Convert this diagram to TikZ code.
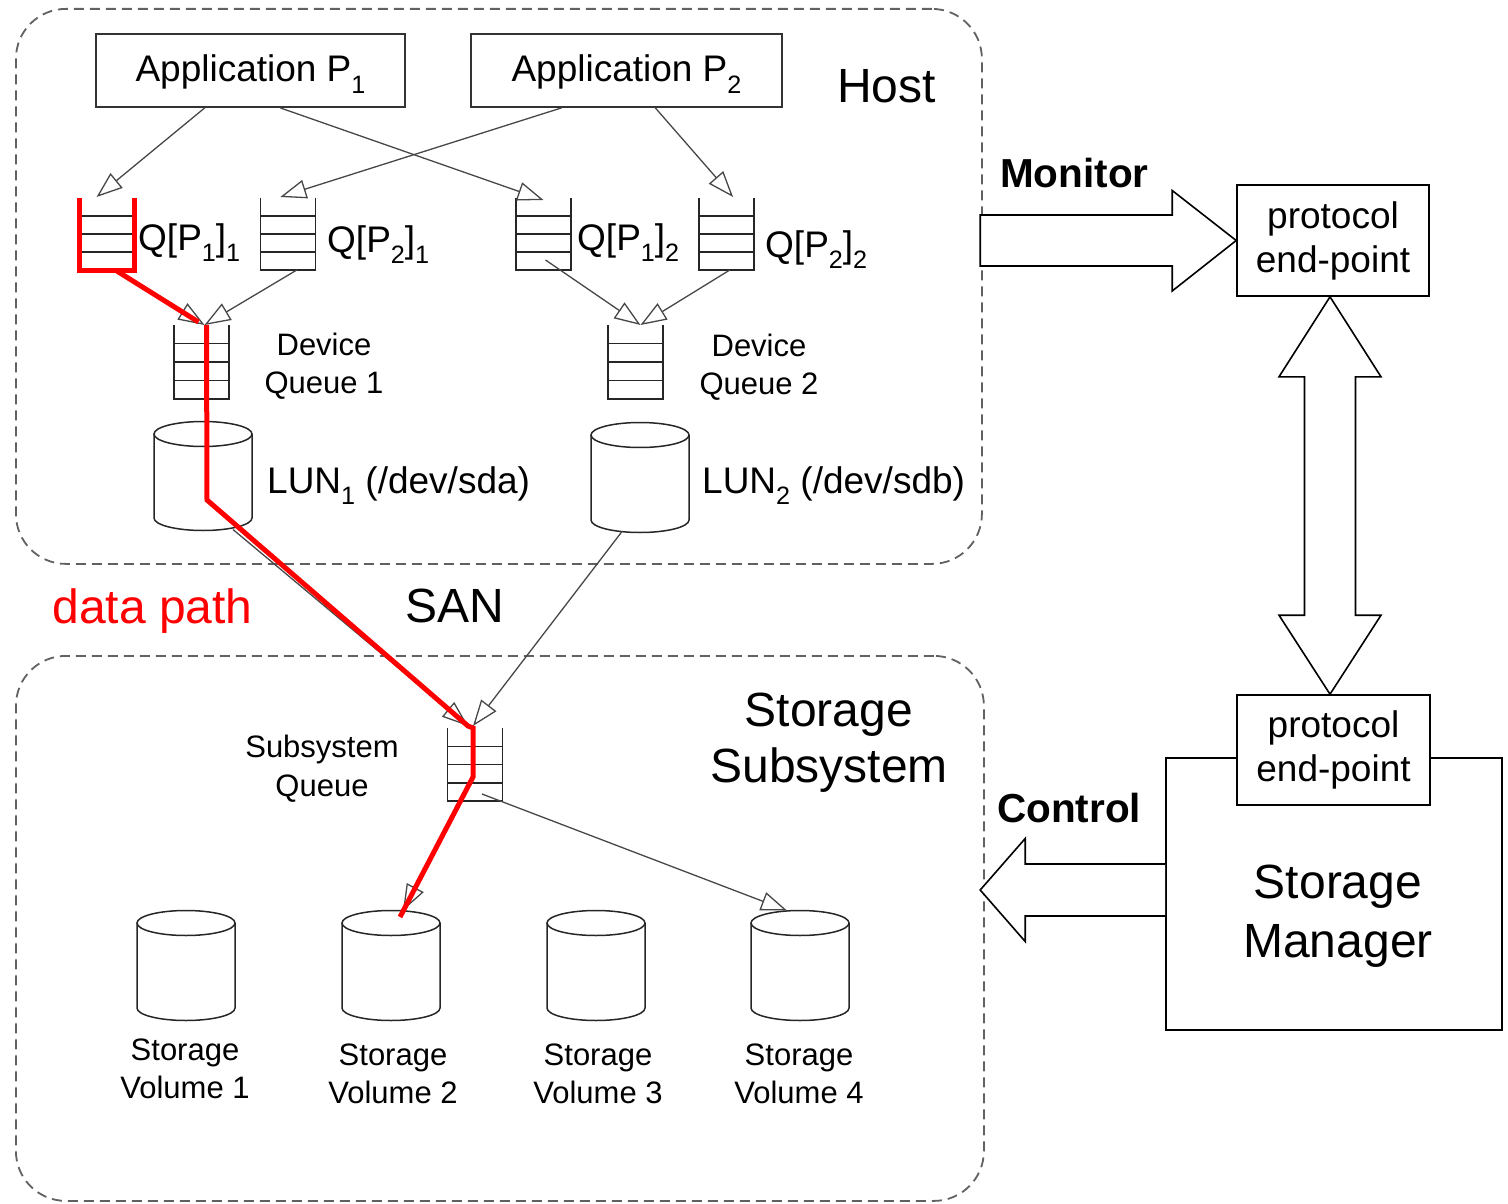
\documentclass[tikz,border=0pt]{standalone}
\usepackage{fontspec}
\setmainfont{Liberation Sans}
\usepackage{graphicx}
\usetikzlibrary{arrows.meta,calc}
\newcommand\dn[1]{\raisebox{-0.32em}{\scalebox{0.68}{#1}}}
\newcommand\qstack[4]{%
  \node[qnode, minimum height={(#4-#3)*1pt}] (#1) at (#2,{(#3+#4)/2}) {};
  \draw[qline] (#1.north west) -- (#1.south west) -- (#1.south east) -- (#1.north east);
  \foreach \k in {1,2,3}{\draw[qline] ($(#1.north west)!{\k/4}!(#1.south west)$) -- ($(#1.north east)!{\k/4}!(#1.south east)$);}%
}
\newcommand\cyl[4]{%
  \node[cnode, minimum height={(#4-#3+25)*1pt}] (#1) at (#2,{(#3+#4)/2}) {};
  \draw[cline] (#2-49,#3) -- (#2-49,#4) arc[start angle=180,end angle=360,x radius=49pt,y radius=12.5pt] -- (#2+49,#3);
  \draw[cline] (#2,#3) ellipse[x radius=49pt,y radius=12.5pt];
}
\begin{document}
\begin{tikzpicture}[x=1pt,y=-1pt,
  fmed/.style={font=\fontsize{37}{44}\selectfont},
  fsmall/.style={font=\fontsize{31}{38}\selectfont},
  flarge/.style={font=\fontsize{48}{57}\selectfont},
  fbold/.style={font=\fontsize{40.5}{48}\selectfont\bfseries},
  region/.style={draw=black!62, dash pattern=on 10pt off 6pt, line width=1.8pt, rounded corners=50pt, inner sep=0pt},
  appbox/.style={draw=black!80, line width=1.6pt, inner sep=0pt, fmed, text height=27pt, text depth=5pt},
  qnode/.style={inner sep=0pt, outer sep=0pt, minimum width=55pt},
  cnode/.style={inner sep=0pt, outer sep=0pt, minimum width=98pt},
  qline/.style={draw=black!85, line width=1.5pt},
  cline/.style={draw=black!85, line width=1.5pt},
  conn/.style={draw=black!72, line width=1.3pt, -{Triangle[length=26pt,width=19pt,fill=white,line width=1.3pt]}},
  datapath/.style={draw=red, line width=5pt, line join=miter},
  blockarrow/.style={draw=black, line width=1.6pt, fill=white, line join=miter},
  pbox/.style={draw=black, line width=1.6pt, fill=white, align=center, inner sep=0pt, fmed},
  lbl/.style={inner sep=0pt, anchor=base},
  lblw/.style={inner sep=0pt, anchor=base west},
]
\useasboundingbox (0,0) rectangle (1508,1204);

% regions
\node[region, minimum width=966pt, minimum height=555pt, anchor=north west] (host) at (15,8) {};
\node[region, minimum width=968pt, minimum height=545pt, anchor=north west] (stor) at (15,655) {};

% applications
\node[appbox, minimum width=309pt, minimum height=73pt] (app1) at (250.5,70.5) {Application P\dn{1}};
\node[appbox, minimum width=311pt, minimum height=73pt] (app2) at (626.5,70.5) {Application P\dn{2}};
\node[lblw, flarge] (hostlbl) at (837,103) {Host};

% queues
\qstack{q11}{107}{198}{270}
\qstack{q21}{288}{198}{270}
\qstack{q12}{543.5}{198}{270}
\qstack{q22}{726.5}{198}{270}
\qstack{dq1}{201.5}{325}{399}
\qstack{dq2}{635.5}{325}{399}
\qstack{sq}{475}{728}{801}

\node[lblw, fmed] (lq11) at (138,250) {Q[P\dn{1}]\dn{1}};
\node[lblw, fmed] (lq21) at (327,252) {Q[P\dn{2}]\dn{1}};
\node[lblw, fmed] (lq12) at (577,250) {Q[P\dn{1}]\dn{2}};
\node[lblw, fmed] (lq22) at (765,257) {Q[P\dn{2}]\dn{2}};

\node[lbl, fsmall] (ldq1a) at (324,355) {Device};
\node[lbl, fsmall] (ldq1b) at (324,393) {Queue 1};
\node[lbl, fsmall] (ldq2a) at (759,356) {Device};
\node[lbl, fsmall] (ldq2b) at (759,394) {Queue 2};

% LUNs
\cyl{lun1}{203}{434}{518}
\cyl{lun2}{640}{435}{520}
\node[lblw, fmed] (llun1) at (267,493) {LUN\dn{1} (/dev/sda)};
\node[lblw, fmed] (llun2) at (702,493) {LUN\dn{2} (/dev/sdb)};

\node[lbl, flarge] (san) at (455,622) {SAN};
\node[lbl, flarge, text=red] (dpath) at (152.5,623) {data path};

% storage subsystem
\node[lbl, flarge] (ss1) at (829,726) {Storage};
\node[lbl, flarge] (ss2) at (829,782) {Subsystem};
\node[lbl, fsmall] (lsq1) at (322,757) {Subsystem};
\node[lbl, fsmall] (lsq2) at (322,796) {Queue};

\cyl{sv1}{186}{923}{1008}
\cyl{sv2}{391}{923}{1008}
\cyl{sv3}{596}{923}{1008}
\cyl{sv4}{800}{923}{1008}
\node[lbl, fsmall] (lsv1a) at (185,1060) {Storage};
\node[lbl, fsmall] (lsv1b) at (185,1098) {Volume 1};
\node[lbl, fsmall] (lsv2a) at (393,1065) {Storage};
\node[lbl, fsmall] (lsv2b) at (393,1103) {Volume 2};
\node[lbl, fsmall] (lsv3a) at (598,1065) {Storage};
\node[lbl, fsmall] (lsv3b) at (598,1103) {Volume 3};
\node[lbl, fsmall] (lsv4a) at (799,1065) {Storage};
\node[lbl, fsmall] (lsv4b) at (799,1103) {Volume 4};

% connectors
\draw[conn] ($(app1.south west)!0.353!(app1.south east)$) -- ($(q11.north west)!0.31!(q11.north east)+(0,-1)$);
\draw[conn] ($(app1.south west)!0.595!(app1.south east)$) -- ($(q12.north)+(0,2)$);
\draw[conn] ($(app2.south west)!0.293!(app2.south east)$) -- ($(q21.north west)!0.36!(q21.north east)+(0,-1)$);
\draw[conn] ($(app2.south west)!0.592!(app2.south east)$) -- ($(q22.north west)!0.62!(q22.north east)+(0,-1)$);
\draw[conn] ($(q11.south west)!0.65!(q11.south east)$) -- ($(dq1.north)+(3,0)$);
\draw[conn] ($(q21.south west)!0.66!(q21.south east)$) -- ($(dq1.north)+(3,0)$);
\draw[conn] ($(q12.center)+(2,26)$) -- ($(dq2.north)+(5,0)$);
\draw[conn] ($(q22.south west)!0.56!(q22.south east)$) -- ($(dq2.north)+(5,0)$);
\draw[conn] ($(lun1.south)+(30,-1)$) -- ($(sq.north)+(-7,-2)$);
\draw[conn] ($(lun2.south)+(-18,-1)$) -- ($(sq.north)+(-2,-2)$);
\draw[conn] ($(sq.center)+(-2,15)$) -- ($(sv2.north)+(12,0)$);
\draw[conn] ($(sq.center)+(7,29.5)$) -- ($(sv4.north)+(-13,0)$);

% data path
\draw[datapath] (q11.north west) -- (q11.south west) -- (q11.south east) -- (q11.north east);
\draw[datapath] ($(q11.south west)!0.65!(q11.south east)$) -- ($(dq1.north)+(-3,-3)$);
\draw[datapath] ($(dq1.north)+(5,0)$) -- ($(lun1.center)+(4,24)$) -- ($(sq.north)+(-7,-2)$) -- ($(sq.north)+(-2,0)$) -- ($(sq.center)+(-2,12.5)$) -- ($(sv2.north)+(9,6.5)$);

% right side
\node[pbox, minimum width=192pt, minimum height=111pt] (pe1) at (1333,240.5) {protocol\\end-point};
\node[draw, line width=1.6pt, inner sep=0pt, minimum width=336pt, minimum height=272pt] (sm) at (1334,894) {};
\node[pbox, minimum width=193pt, minimum height=110pt] (pe2) at (1333.5,750) {protocol\\end-point};
\node[lbl, flarge] (sm1) at (1338,898) {Storage};
\node[lbl, flarge] (sm2) at (1338,957) {Manager};

\draw[blockarrow] ($(pe1.west)+(-256,-25.5)$) -- ++(192,0) -- ++(0,-24.5) -- (pe1.west) -- ++(-64,50.5) -- ++(0,-25) -- ++(-192,0) -- cycle;
\node[lblw, fbold] (mon) at (1000,187) {Monitor};

\coordinate (dt) at ($(pe1.south)+(-3,0)$);
\coordinate (db) at ($(pe2.north)+(-3.5,0)$);
\draw[blockarrow] (dt) -- ($(dt)+(51,80)$) -- ($(dt)+(25.5,80)$) -- ($(db)+(25.5,-79)$) -- ($(db)+(51,-79)$) -- (db) -- ($(db)+(-51,-79)$) -- ($(db)+(-25.5,-79)$) -- ($(dt)+(-25.5,80)$) -- ($(dt)+(-51,80)$) -- cycle;

\coordinate (ca) at ($(sm.west)+(0,-4)$);
\draw[blockarrow] ($(ca)+(0,-26)$) -- ($(ca)+(-140,-26)$) -- ($(ca)+(-140,-51.5)$) -- ($(ca)+(-185,0)$) -- ($(ca)+(-140,51.5)$) -- ($(ca)+(-140,26)$) -- ($(ca)+(0,26)$);
\node[lblw, fbold] (ctl) at (997,822) {Control};
\end{tikzpicture}
\end{document}
